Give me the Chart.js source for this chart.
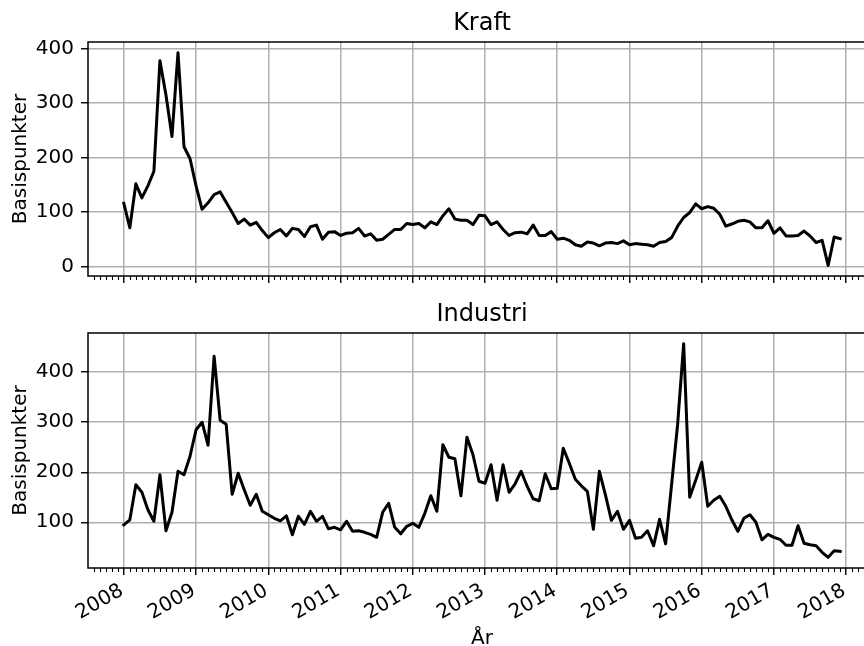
<!DOCTYPE html>
<html>
<head>
<meta charset="utf-8">
<script src="https://cdn.jsdelivr.net/npm/chart.js@4/dist/chart.umd.min.js"></script>
<style>
  html, body { margin: 0; padding: 0; background: #fff; overflow: hidden; width: 864px; height: 646px; }
  canvas { position: absolute; left: 0; }
</style>
</head>
<body>
<canvas id="kraftChart" width="900" height="300" style="top:0"></canvas>
<canvas id="industriChart" width="900" height="346" style="top:300px"></canvas>
<script>
// Monthly spreads in basis points, January 2008 – December 2017
const startYear = 2008;

const kraft = [
  116, 71, 152, 126, 148, 175, 378, 315, 239, 393, 220, 198,
  148, 105, 117, 132, 137, 118, 99, 79, 87, 76, 81, 66,
  53, 62, 68, 56, 70, 68, 55, 73, 76, 50, 63, 64,
  57, 61, 62, 70, 56, 60, 48, 50, 59, 68, 68, 79,
  77, 79, 71, 82, 77, 93, 106, 87, 85, 85, 77, 94,
  93, 77, 82, 68, 57, 62, 63, 60, 76, 57, 57, 64,
  50, 52, 48, 40, 37, 45, 43, 38, 43, 44, 42, 47,
  40, 42, 41, 40, 37, 44, 46, 53, 74, 90, 99, 115,
  106, 110, 107, 96, 74, 78, 83, 85, 82, 71, 71, 84,
  61, 71, 56, 56, 57, 65, 56, 44, 48, 2, 54, 51
];

const industri = [
  95, 105, 175, 160, 125, 102, 195, 83, 120, 202, 195, 232,
  285, 300, 254, 432, 304, 296, 156, 198, 165, 134, 156, 122,
  115, 108, 103, 113, 75, 112, 96, 122, 102, 112, 87, 90,
  85, 102, 82, 83, 80, 76, 70, 120, 138, 90, 77, 92,
  98, 90, 118, 153, 122, 255, 230, 227, 153, 270, 235, 182,
  178, 215, 144, 215, 160, 177, 202, 172, 147, 143, 197, 167,
  168, 248, 218, 186, 173, 162, 86, 202, 155, 104, 122, 86,
  104, 68, 70, 83, 53, 106, 57, 176, 296, 457, 150, 184,
  220, 132, 144, 152, 132, 105, 82, 108, 115, 100, 65, 76,
  70, 66, 54, 54, 93, 58, 55, 53, 40, 30, 43, 42
];

const kraftTicks = [0, 100, 200, 300, 400];
const industriTicks = [100, 200, 300, 400];
const yearTicks = [2008, 2009, 2010, 2011, 2012, 2013, 2014, 2015, 2016, 2017, 2018];

const FONT = 'DejaVu Sans';
const TICK_SIZE = 20;
const TITLE_SIZE = 24;
const GRID = '#b0b0b0';

// x positions as fractional years, one per month
const toPoints = vals => vals.map((v, i) => ({ x: startYear + i / 12, y: v }));

// 5 % margins around the data, like an auto-scaled axis
function padded(lo, hi) {
  const m = (hi - lo) * 0.05;
  return [lo - m, hi + m];
}

const [xMin, xMax] = padded(startYear, startYear + (kraft.length - 1) / 12);

// Frame, monthly minor ticks, title and axis labels
const decorations = {
  id: 'decorations',
  afterDraw(chart, args, opts) {
    const { ctx, chartArea: a } = chart;
    const xs = chart.scales.x;
    ctx.save();

    // minor ticks every month
    ctx.strokeStyle = '#000';
    ctx.lineWidth = 1.1;
    ctx.beginPath();
    const m0 = Math.ceil((xMin - startYear) * 12), m1 = Math.floor((xMax - startYear) * 12);
    for (let m = m0; m <= m1; m++) {
      if (m % 12 === 0) continue;
      const px = Math.round(xs.getPixelForValue(startYear + m / 12)) + 0.5;
      ctx.moveTo(px, a.bottom);
      ctx.lineTo(px, a.bottom + 4);
    }
    ctx.stroke();

    // axes frame
    ctx.lineWidth = 1.5;
    ctx.strokeRect(a.left, a.top, a.right - a.left, a.bottom - a.top);

    ctx.fillStyle = '#000';
    // subplot title
    ctx.font = `${TITLE_SIZE}px "${FONT}"`;
    ctx.textAlign = 'center';
    ctx.textBaseline = 'alphabetic';
    ctx.fillText(opts.title, (a.left + a.right) / 2, a.top - 12);

    // y-axis label
    ctx.font = `${TICK_SIZE}px "${FONT}"`;
    ctx.save();
    ctx.translate(26, (a.top + a.bottom) / 2);
    ctx.rotate(-Math.PI / 2);
    ctx.fillText(opts.yLabel, 0, 0);
    ctx.restore();

    // x-axis label
    if (opts.xLabel) {
      ctx.fillText(opts.xLabel, (a.left + a.right) / 2, opts.xLabelY);
    }
    ctx.restore();
  }
};

function makeChart(id, values, yTicks, title, area, xLabel, xLabelY) {
  const canvas = document.getElementById(id);
  const W = canvas.width, H = canvas.height;
  const [yMin, yMax] = padded(Math.min(...values), Math.max(...values));
  return new Chart(canvas, {
    type: 'line',
    data: {
      datasets: [{
        data: toPoints(values),
        borderColor: '#000',
        borderWidth: 3,
        pointRadius: 0,
        fill: false,
        tension: 0,
        borderJoinStyle: 'round',
        borderCapStyle: 'square'
      }]
    },
    options: {
      responsive: false,
      animation: false,
      devicePixelRatio: 1,
      events: [],
      layout: { padding: { top: area.top, right: W - area.right, left: 0, bottom: 0 } },
      plugins: {
        legend: { display: false },
        tooltip: { enabled: false },
        decorations: { title, yLabel: 'Basispunkter', xLabel, xLabelY }
      },
      scales: {
        x: {
          type: 'linear',
          min: xMin,
          max: xMax,
          afterBuildTicks: s => { s.ticks = yearTicks.map(v => ({ value: v })); },
          afterFit: s => { s.height = H - area.bottom; },
          ticks: {
            display: !!xLabel,
            autoSkip: false,
            minRotation: 30,
            maxRotation: 30,
            padding: 4,
            labelOffset: -2,
            color: '#000',
            font: { family: FONT, size: TICK_SIZE },
            callback: v => String(v)
          },
          grid: { color: GRID, lineWidth: 1.5, tickColor: '#000', tickLength: 7, tickWidth: 1.4 },
          border: { display: false }
        },
        y: {
          type: 'linear',
          min: yMin,
          max: yMax,
          afterBuildTicks: s => { s.ticks = yTicks.map(v => ({ value: v })); },
          afterFit: s => { s.width = area.left; },
          ticks: {
            padding: 7,
            color: '#000',
            font: { family: FONT, size: TICK_SIZE },
            callback: v => String(v)
          },
          grid: { color: GRID, lineWidth: 1.5, tickColor: '#000', tickLength: 7, tickWidth: 1.4 },
          border: { display: false }
        }
      }
    },
    plugins: [decorations]
  });
}

makeChart('kraftChart', kraft, kraftTicks, 'Kraft', { top: 42, bottom: 276, left: 88, right: 876 });
makeChart('industriChart', industri, industriTicks, 'Industri', { top: 33, bottom: 268, left: 88, right: 876 }, 'År', 344);
</script>
</body>
</html>
